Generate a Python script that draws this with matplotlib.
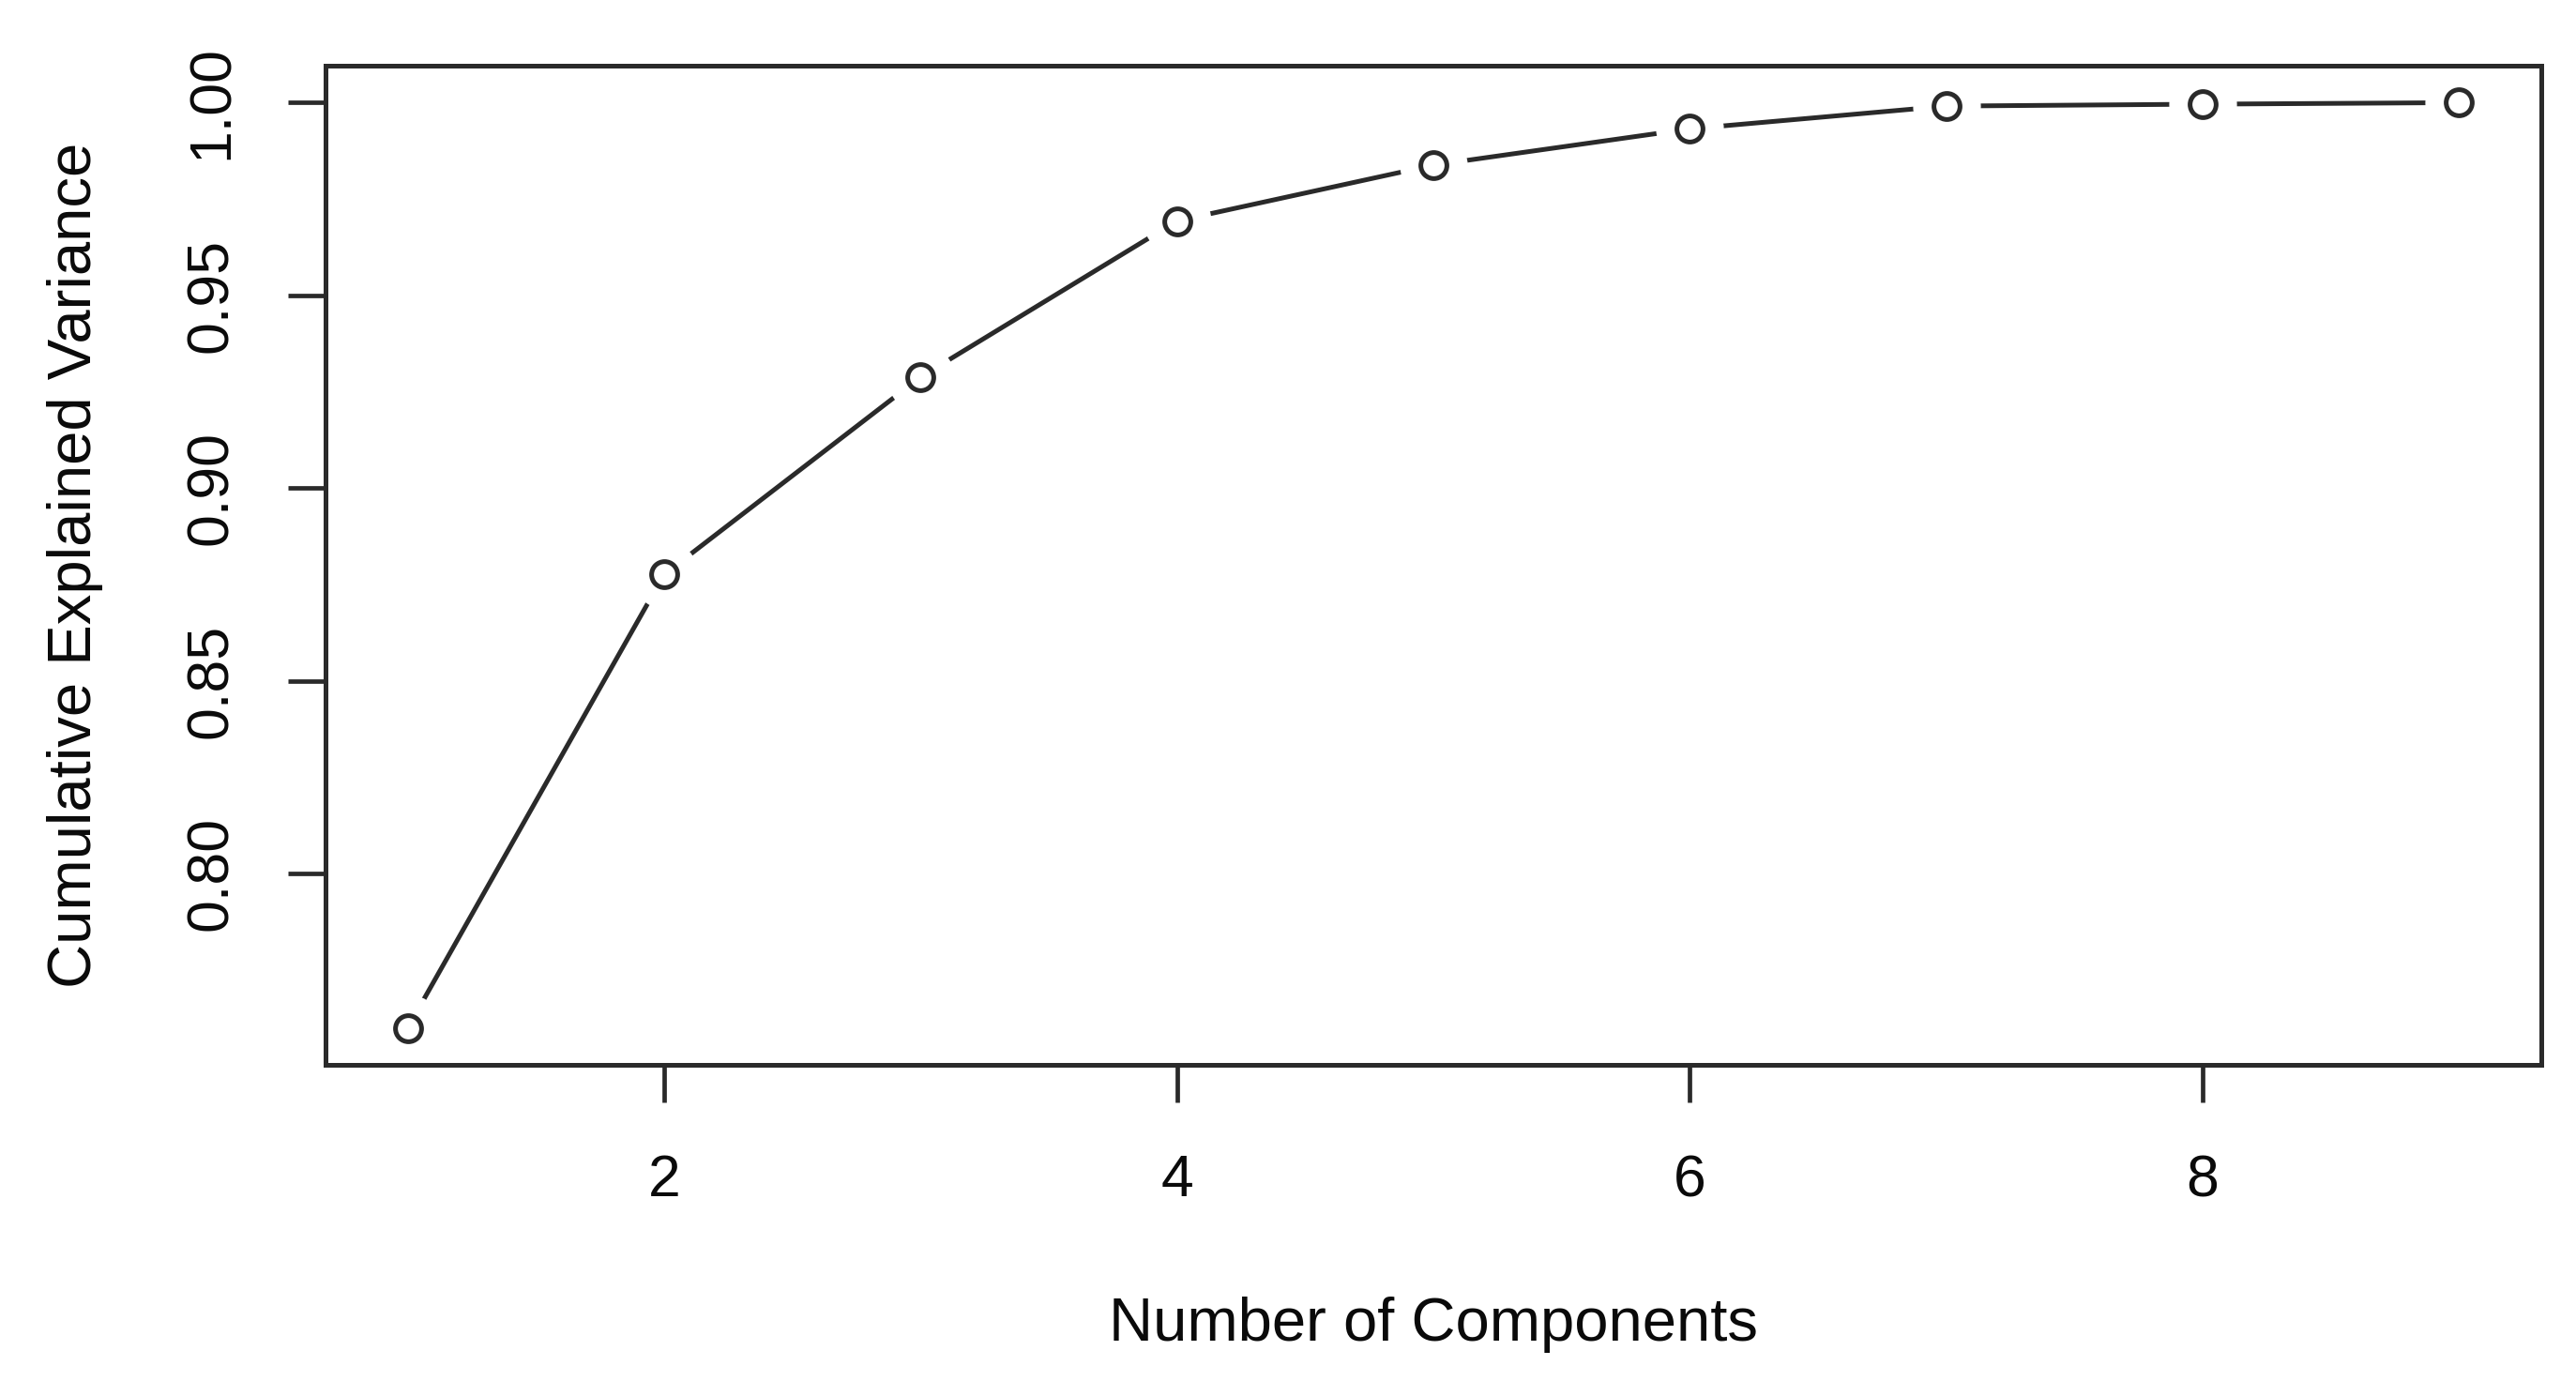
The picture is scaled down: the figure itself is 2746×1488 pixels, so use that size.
import numpy as np
import matplotlib
matplotlib.use("Agg")
import matplotlib.pyplot as plt

# Cumulative explained variance per number of PCA components
components = [1, 2, 3, 4, 5, 6, 7, 8, 9]
cum_var = [0.760, 0.8776, 0.9288, 0.9693, 0.9838, 0.9932, 0.9991, 0.9996, 1.0000]

x_ticks = [2, 4, 6, 8]
y_ticks = [0.80, 0.85, 0.90, 0.95, 1.00]
y_tick_labels = ["0.80", "0.85", "0.90", "0.95", "1.00"]

plt.rcParams['font.family'] = ['Liberation Sans', 'DejaVu Sans']
ink = '#2a2a2a'

fig = plt.figure(figsize=(27.46, 14.88), dpi=100)
ax = fig.add_axes([0.1264, 0.2372, 0.8601, 0.7158])

# R-style type="b": line with gaps around the points
ax.plot(components, cum_var, color=ink, lw=3.6, zorder=1)
ax.plot(components, cum_var, ls='none', marker='o', ms=52,
        mfc='white', mec='none', zorder=2)
ax.plot(components, cum_var, ls='none', marker='o', ms=20,
        mfc='white', mec=ink, mew=3.6, zorder=3)

# axis ranges padded 4% like R
xr = max(components) - min(components)
yr = max(cum_var) - min(cum_var)
ax.set_xlim(min(components) - 0.04 * xr, max(components) + 0.04 * xr)
ax.set_ylim(min(cum_var) - 0.04 * yr, max(cum_var) + 0.04 * yr)

ax.set_xticks(x_ticks)
ax.set_xticklabels([str(t) for t in x_ticks])
ax.set_yticks(y_ticks)
ax.set_yticklabels(y_tick_labels, rotation=90, va='center')

for s in ax.spines.values():
    s.set_linewidth(3.6)
    s.set_color(ink)

ax.tick_params(axis='both', length=29, width=3.4, color=ink,
               labelsize=45, labelcolor='#0a0a0a')
ax.tick_params(axis='x', pad=39)
ax.tick_params(axis='y', pad=37)

ax.set_xlabel("Number of Components", fontsize=47, color='#0a0a0a')
ax.set_ylabel("Cumulative Explained Variance", fontsize=47, color='#0a0a0a')
ax.xaxis.set_label_coords(0.5, -0.26)
ax.xaxis.label.set_va('center')
ax.yaxis.set_label_coords(-0.113, 0.5)
ax.yaxis.label.set_va('center')

fig.savefig("out.png", dpi=100, facecolor='white')
